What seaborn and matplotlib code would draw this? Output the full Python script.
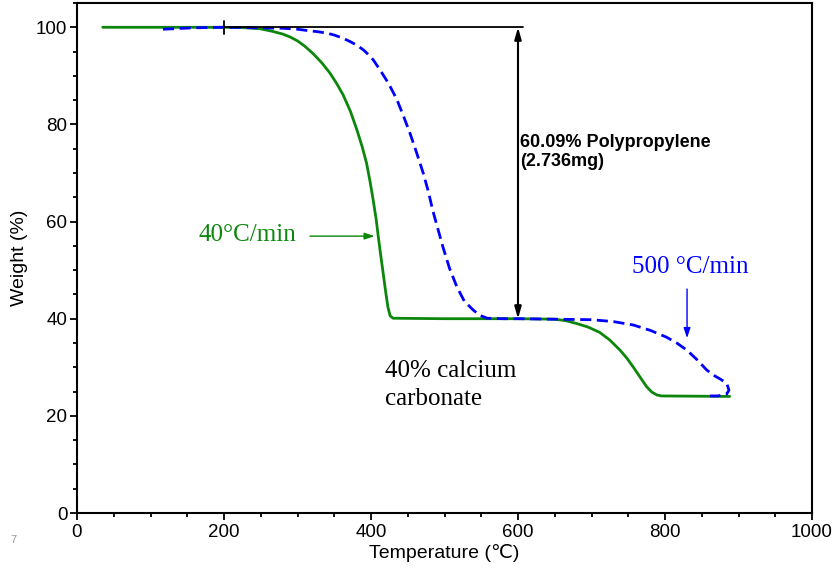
import matplotlib
matplotlib.use("Agg")
import matplotlib.pyplot as plt
from matplotlib.ticker import MultipleLocator
import seaborn as sns
import pandas as pd

# ---- data ----
green_T = [35, 200, 230, 249, 265, 280, 290, 300, 310, 321, 333, 344, 353, 362, 372,
           381, 388, 394, 399, 403, 407, 410, 413, 416, 420, 423, 426, 430,
           500, 600, 650, 665, 680, 695, 711, 725, 739, 748, 757, 766, 775, 782,
           789, 795, 888]
green_W = [100, 100, 99.9, 99.7, 99.2, 98.6, 98, 97.2, 96.1, 94.6, 92.7, 90.6, 88.5, 86.1, 82.7,
           78.8, 75.4, 72, 68, 64.4, 60.5, 56.8, 53.3, 50, 45.5, 42.4, 40.6, 40.1,
           40, 40, 39.9, 39.6, 39.0, 38.3, 37.2, 35.6, 33.5, 31.9, 30, 28, 26, 24.9,
           24.3, 24.1, 24.0]

blue_T = [117, 160, 200, 280, 300, 315, 327, 340, 350, 361, 371, 381, 390, 397, 403,
          412, 424, 435, 444, 453, 462, 471, 478, 484, 491, 498, 507, 517, 527, 539,
          548, 558, 580, 600, 650, 700, 730, 757, 780, 802, 816, 830, 844, 857, 868,
          876, 884, 887, 884, 872, 861]
blue_W = [99.6, 99.9, 100, 99.8, 99.6, 99.3, 99.1, 98.8, 98.4, 97.8, 97.1, 96.3, 95.3, 94.3, 93.3,
          91.3, 88.4, 85.2, 81.8, 78.2, 74.2, 70, 66.2, 62.3, 58.5, 54.7, 50.3, 46.5, 43.6, 41.8,
          40.7, 40.1, 40, 40, 39.9, 39.8, 39.4, 38.7, 37.6, 36.2, 35, 33.5, 31.5, 29.4, 28.2,
          27.5, 26.7, 25.3, 24.5, 24.1, 24.1]

x_ticks = [0, 200, 400, 600, 800, 1000]
y_ticks = [0, 20, 40, 60, 80, 100]

green_label = "40°C/min"
blue_label = "500 °C/min"
pp_label = "60.09% Polypropylene\n(2.736mg)"
caco3_label = "40% calcium\ncarbonate"

GREEN = "#0c870c"
BLUE = "#0000ff"

sns.set_style("ticks")
plt.rcParams['font.family'] = ['Liberation Sans', 'DejaVu Sans']
plt.rcParams['text.color'] = 'black'
plt.rcParams['axes.labelcolor'] = 'black'
plt.rcParams['xtick.color'] = 'black'
plt.rcParams['ytick.color'] = 'black'

fig = plt.figure(figsize=(8.33, 5.71), dpi=100)
ax = fig.add_axes([77/833, 1 - 513/571, (812-77)/833, (513-3)/571])

df_g = pd.DataFrame({"T": green_T, "W": green_W})
df_b = pd.DataFrame({"T": blue_T, "W": blue_W})
sns.lineplot(data=df_g, x="T", y="W", sort=False, estimator=None, color=GREEN,
             lw=2.0, ax=ax)
sns.lineplot(data=df_b, x="T", y="W", sort=False, estimator=None, color=BLUE,
             lw=2.0, linestyle=(0, (4, 2)), ax=ax)

ax.set_xlim(0, 1000)
ax.set_ylim(0, 105)
ax.set_xticks(x_ticks)
ax.set_yticks(y_ticks)
ax.xaxis.set_minor_locator(MultipleLocator(50))
ax.yaxis.set_minor_locator(MultipleLocator(5))
ax.tick_params(axis='both', which='major', length=5, width=1.3, labelsize=13.5,
               direction='out', color='black', labelcolor='black')
ax.tick_params(axis='both', which='minor', length=3, width=1.3, direction='out')
ax.tick_params(axis='y', pad=2)
ax.tick_params(axis='x', pad=3)
for s in ax.spines.values():
    s.set_visible(True)
    s.set_linewidth(1.5)
    s.set_color('black')

ax.set_xlabel("Temperature (℃)", fontsize=14, labelpad=2, color='black')
ax.set_ylabel("Weight (%)", fontsize=14, labelpad=6, color='black')

# reference line and double arrow
ax.plot([200, 607], [100, 100], color='black', lw=1.3)
ax.plot([200, 200], [98.6, 101.3], color='black', lw=1.3)
ax.annotate('', xy=(600, 40), xytext=(600, 100),
            arrowprops=dict(arrowstyle='<|-|>,head_length=0.7,head_width=0.2',
                            color='black', lw=1.5, shrinkA=0, shrinkB=0))
ax.text(603, 74.3, pp_label, fontsize=13, fontweight='bold', ha='left', va='center',
        linespacing=1.2, color='black')

serif = ['Liberation Serif', 'DejaVu Serif']
ax.text(165, 57.2, green_label, color=GREEN, fontsize=18, family=serif,
        ha='left', va='center')
ax.annotate('', xy=(405, 57), xytext=(317, 57),
            arrowprops=dict(arrowstyle='-|>,head_length=0.6,head_width=0.2',
                            color=GREEN, lw=1.0, shrinkA=0, shrinkB=0))

ax.text(755, 50.6, blue_label, color=BLUE, fontsize=18, family=serif,
        ha='left', va='center')
ax.annotate('', xy=(830, 36.0), xytext=(830, 46.1),
            arrowprops=dict(arrowstyle='-|>,head_length=0.6,head_width=0.2',
                            color=BLUE, lw=1.0, shrinkA=0, shrinkB=0))

ax.text(419, 26.3, caco3_label, color='black', fontsize=18, family=serif,
        ha='left', va='center', linespacing=1.35)

fig.text(10/833, 1 - 540/571, "7", color='#999999', fontsize=8, ha='left', va='center')

fig.savefig("out.png", dpi=100)
